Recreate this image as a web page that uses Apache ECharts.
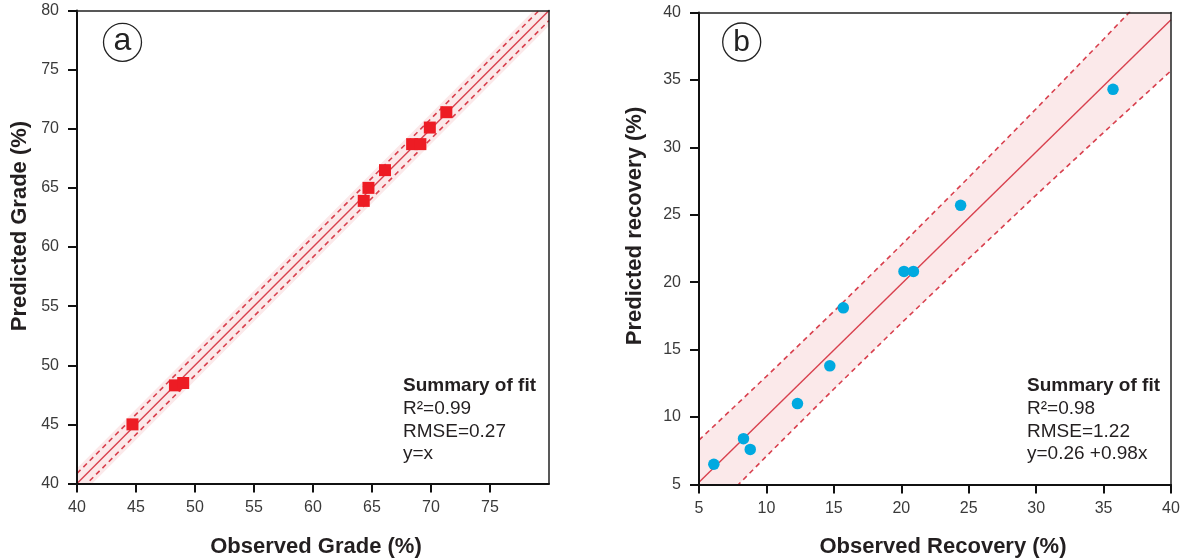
<!DOCTYPE html>
<html><head><meta charset="utf-8">
<script src="https://cdn.jsdelivr.net/npm/echarts@6/dist/echarts.min.js"></script>
<style>html,body{margin:0;padding:0;background:#fff}#c{width:1184px;height:559px}</style>
</head><body><div id="c"></div>
<script>
// Panel (a) data: grade
const gradeObserved  = [44.7, 48.3, 49.0, 64.3, 64.7, 66.1, 68.4, 69.1, 69.9, 71.3];
const gradePredicted = [45.0, 48.3, 48.5, 63.9, 65.0, 66.5, 68.7, 68.7, 70.1, 71.4];
const gradeFitX = [40, 80];
const gradeFitY = [40, 80];
const gradeBandUpper = [41.3, 81.3];
const gradeBandLower = [38.7, 78.7];
const gradeDashUpper = [40.85, 80.85];
const gradeDashLower = [39.15, 79.15];
const gradeAxis = {min: 40, max: 80, interval: 5};

// Panel (b) data: recovery
const recoveryObserved  = [6.1, 8.3, 8.8, 12.3, 14.7, 15.7, 20.2, 20.9, 24.4, 35.7];
const recoveryPredicted = [6.5, 8.4, 7.6, 11.0, 13.8, 18.1, 20.8, 20.8, 25.7, 34.3];
const recoveryFitX = [5, 40];
const recoveryFitY = [5.16, 39.46];
const recoveryBandX = [5, 10, 15, 20, 25, 30, 35, 40];
const recoveryBandUpper = [8.29, 13.02, 17.84, 22.76, 27.77, 32.86, 38.02, 43.24];
const recoveryBandLower = [2.03, 7.10, 12.08, 16.96, 21.75, 26.46, 31.10, 35.68];
const recoveryAxis = {min: 5, max: 40, interval: 5};

const summaryA = ['Summary of fit', 'R\u00b2=0.99', 'RMSE=0.27', 'y=x'];
const summaryB = ['Summary of fit', 'R\u00b2=0.98', 'RMSE=1.22', 'y=0.26 +0.98x'];

const FONT = '"Liberation Sans", Arial, Helvetica, sans-serif';
const LINE = '#d8404e';
const BAND = '#fbe9ea';

function pairs(xs, ys) { return xs.map((x, i) => [x, ys[i]]); }

function mainX(gridIndex, ax, hideMax) {
  return {
    type: 'value', gridIndex, min: ax.min, max: ax.max, interval: ax.interval, z: 5,
    axisLine: {show: true, onZero: false, lineStyle: {color: '#111', width: 2}},
    axisTick: {show: true, length: 9, lineStyle: {color: '#111', width: 2}},
    axisLabel: {color: '#3a3a3a', fontSize: 16, fontFamily: FONT, margin: 16, showMaxLabel: !hideMax},
    splitLine: {show: false}
  };
}
function mainY(gridIndex, ax) {
  return {
    type: 'value', gridIndex, min: ax.min, max: ax.max, interval: ax.interval, z: 5,
    axisLine: {show: true, onZero: false, lineStyle: {color: '#111', width: 2}},
    axisTick: {show: true, length: 9, lineStyle: {color: '#111', width: 2}},
    axisLabel: {color: '#3a3a3a', fontSize: 16, fontFamily: FONT, margin: 18, showMaxLabel: true},
    splitLine: {show: false}
  };
}
function borderAxis(kind, gridIndex, ax) {
  return {
    type: 'value', gridIndex, min: ax.min, max: ax.max, interval: ax.interval, z: 5,
    position: kind === 'x' ? 'top' : 'right',
    axisLine: {show: true, onZero: false, lineStyle: {color: '#222', width: 1.5}},
    axisTick: {show: false}, axisLabel: {show: false}, splitLine: {show: false}
  };
}

function bandSeries(idx, xs, up, lo) {
  return {
    type: 'custom', xAxisIndex: idx, yAxisIndex: idx, clip: true, silent: true, z: 1,
    data: [[xs[0], up[0]]],
    renderItem: function (params, api) {
      const pts = [];
      for (let i = 0; i < xs.length; i++) pts.push(api.coord([xs[i], up[i]]));
      for (let i = xs.length - 1; i >= 0; i--) pts.push(api.coord([xs[i], lo[i]]));
      return {type: 'polygon', shape: {points: pts}, style: {fill: BAND, stroke: null}};
    }
  };
}
function lineSeries(idx, xs, ys, dashed) {
  return {
    type: 'line', xAxisIndex: idx, yAxisIndex: idx, data: pairs(xs, ys), showSymbol: false,
    symbol: 'none', clip: true, silent: true, z: 2,
    lineStyle: {color: LINE, width: dashed ? 1.6 : 1.4, type: dashed ? [5, 4] : 'solid'}
  };
}

const chart = echarts.init(document.getElementById('c'), null, {renderer: 'canvas'});

function summaryGraphics(x, lines) {
  const ys = [386, 409, 431.5, 454];
  return lines.map((t, i) => ({
    type: 'text', x: x, y: ys[i],
    style: {text: t, fontFamily: FONT, fontSize: 19, fontWeight: i === 0 ? 'bold' : 'normal',
            fill: '#231f20', align: 'left', verticalAlign: 'middle'}
  }));
}

chart.setOption({
  animation: false,
  backgroundColor: '#fff',
  grid: [
    {left: 77, top: 10.5, width: 472, height: 473},
    {left: 699, top: 12.5, width: 472, height: 472}
  ],
  xAxis: [mainX(0, gradeAxis, true), mainX(1, recoveryAxis, false),
          borderAxis('x', 0, gradeAxis), borderAxis('x', 1, recoveryAxis)],
  yAxis: [mainY(0, gradeAxis), mainY(1, recoveryAxis),
          borderAxis('y', 0, gradeAxis), borderAxis('y', 1, recoveryAxis)],
  series: [
    bandSeries(0, gradeFitX, gradeBandUpper, gradeBandLower),
    lineSeries(0, gradeFitX, gradeFitY, false),
    lineSeries(0, gradeFitX, gradeDashUpper, true),
    lineSeries(0, gradeFitX, gradeDashLower, true),
    {type: 'scatter', xAxisIndex: 0, yAxisIndex: 0, data: pairs(gradeObserved, gradePredicted),
     symbol: 'rect', symbolSize: 12, z: 3, itemStyle: {color: '#ed1c24', opacity: 1}},
    bandSeries(1, recoveryBandX, recoveryBandUpper, recoveryBandLower),
    lineSeries(1, recoveryFitX, recoveryFitY, false),
    lineSeries(1, recoveryBandX, recoveryBandUpper, true),
    lineSeries(1, recoveryBandX, recoveryBandLower, true),
    {type: 'scatter', xAxisIndex: 1, yAxisIndex: 1, data: pairs(recoveryObserved, recoveryPredicted),
     symbol: 'circle', symbolSize: 11.5, z: 3, itemStyle: {color: '#00a9e0', opacity: 1}}
  ],
  graphic: [
    {type: 'circle', shape: {cx: 122.5, cy: 42.3, r: 19}, style: {fill: 'none', stroke: '#222', lineWidth: 1.3}, z: 10},
    {type: 'text', x: 122.5, y: 41, z: 10, style: {text: 'a', fontFamily: FONT, fontSize: 32, fill: '#222', align: 'center', verticalAlign: 'middle'}},
    {type: 'circle', shape: {cx: 741.7, cy: 42, r: 19}, style: {fill: 'none', stroke: '#222', lineWidth: 1.3}, z: 10},
    {type: 'text', x: 741.7, y: 42.5, z: 10, style: {text: 'b', fontFamily: FONT, fontSize: 30, fill: '#222', align: 'center', verticalAlign: 'middle'}},
    {type: 'text', x: 316, y: 547, z: 10, style: {text: 'Observed Grade (%)', fontFamily: FONT, fontSize: 22, fontWeight: 'bold', fill: '#231f20', align: 'center', verticalAlign: 'middle'}},
    {type: 'text', x: 20, y: 226, rotation: Math.PI / 2, z: 10, style: {text: 'Predicted Grade (%)', fontFamily: FONT, fontSize: 22, fontWeight: 'bold', fill: '#231f20', align: 'center', verticalAlign: 'middle'}},
    {type: 'text', x: 943, y: 547, z: 10, style: {text: 'Observed Recovery (%)', fontFamily: FONT, fontSize: 22, fontWeight: 'bold', fill: '#231f20', align: 'center', verticalAlign: 'middle'}},
    {type: 'text', x: 635, y: 226, rotation: Math.PI / 2, z: 10, style: {text: 'Predicted recovery (%)', fontFamily: FONT, fontSize: 22, fontWeight: 'bold', fill: '#231f20', align: 'center', verticalAlign: 'middle'}}
  ].concat(summaryGraphics(403, summaryA), summaryGraphics(1027, summaryB))
});
</script>
</body></html>
